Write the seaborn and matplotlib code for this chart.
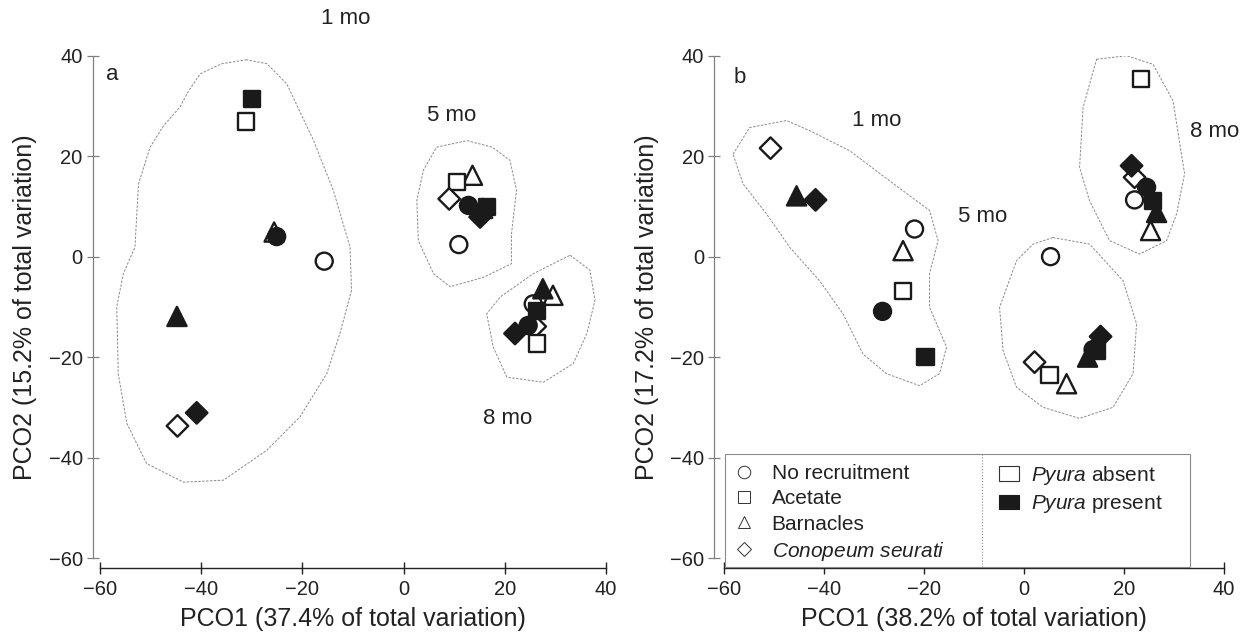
import numpy as np
import pandas as pd
import seaborn as sns
import matplotlib.pyplot as plt
from matplotlib.lines import Line2D
from matplotlib.patches import Patch, Rectangle

# point values
a_time = ['1 mo'] * 8 + ['5 mo'] * 8 + ['8 mo'] * 8
a_treat = ['Acetate', 'Acetate', 'Barnacles', 'No recruitment', 'No recruitment', 'Barnacles', 'Conopeum', 'Conopeum',
           'Barnacles', 'Acetate', 'Conopeum', 'No recruitment', 'Barnacles', 'Acetate', 'Conopeum', 'No recruitment',
           'Barnacles', 'Barnacles', 'No recruitment', 'Acetate', 'Conopeum', 'No recruitment', 'Conopeum', 'Acetate']
a_pyura = ['present', 'absent', 'absent', 'present', 'absent', 'present', 'absent', 'present',
           'absent', 'absent', 'absent', 'present', 'present', 'present', 'present', 'absent',
           'present', 'absent', 'absent', 'present', 'absent', 'present', 'present', 'absent']
a_x = [-29.9, -31.2, -25.6, -25.1, -15.7, -44.8, -44.7, -40.9,
       13.6, 10.5, 9.0, 12.8, 15.6, 16.4, 15.1, 10.9,
       27.5, 29.5, 25.6, 26.3, 26.0, 24.6, 22.0, 26.4]
a_y = [31.4, 26.9, 4.9, 4.0, -0.9, -11.9, -33.7, -31.1,
       16.2, 14.9, 11.5, 10.2, 9.6, 9.9, 7.9, 2.4,
       -6.4, -7.7, -9.4, -10.8, -13.9, -13.7, -15.3, -17.3]

b_time = a_time
b_treat = ['Conopeum', 'Barnacles', 'Conopeum', 'No recruitment', 'Barnacles', 'Acetate', 'No recruitment', 'Acetate',
           'No recruitment', 'Conopeum', 'Acetate', 'Barnacles', 'No recruitment', 'Barnacles', 'Acetate', 'Conopeum',
           'Acetate', 'Conopeum', 'Conopeum', 'No recruitment', 'No recruitment', 'Acetate', 'Barnacles', 'Barnacles']
b_pyura = ['absent', 'present', 'present', 'absent', 'absent', 'absent', 'present', 'present',
           'absent', 'absent', 'absent', 'absent', 'present', 'present', 'present', 'present',
           'absent', 'present', 'absent', 'present', 'absent', 'present', 'present', 'absent']
b_x = [-50.7, -45.5, -41.7, -21.9, -24.2, -24.2, -28.3, -19.7,
       5.3, 2.1, 5.1, 8.5, 13.8, 12.7, 14.5, 15.3,
       23.3, 21.5, 22.1, 24.5, 22.1, 25.8, 26.5, 25.3]
b_y = [21.6, 12.1, 11.3, 5.5, 1.2, -6.8, -10.9, -20.0,
       0.0, -21.0, -23.5, -25.3, -18.5, -20.0, -18.7, -15.9,
       35.4, 18.1, 15.8, 13.8, 11.3, 11.1, 8.8, 5.2]

# dashed group outlines (PCO1, PCO2 vertices)
a_hull_1mo_x = [-31.0, -36.0, -40.2, -42.5, -44.2, -47.5, -50.1, -52.4, -53.1, -55.4, -56.7, -56.4, -54.7,
                -50.8, -43.5, -35.6, -27.0, -20.5, -15.2, -12.6, -10.3, -10.6, -13.9, -17.8, -23.1, -27.0]
a_hull_1mo_y = [39.2, 38.4, 36.4, 33.0, 29.8, 26.0, 21.8, 14.5, 1.9, -3.4, -10.0, -23.3, -33.2,
                -41.2, -44.9, -44.5, -38.5, -31.9, -23.3, -15.3, -6.7, 1.9, 13.2, 23.1, 34.4, 38.4]
a_hull_5mo_x = [6.5, 12.5, 17.5, 21.0, 22.3, 21.3, 21.3, 15.8, 9.2, 5.9, 2.9, 2.6, 3.9]
a_hull_5mo_y = [21.8, 23.1, 21.8, 19.2, 13.2, 4.5, -1.4, -4.1, -6.0, -3.4, 3.2, 11.2, 17.2]
a_hull_8mo_x = [32.9, 36.8, 37.8, 36.2, 33.5, 27.6, 20.4, 17.7, 16.4, 19.1, 25.6]
a_hull_8mo_y = [0.3, -2.7, -8.7, -15.3, -21.3, -25.0, -24.0, -18.0, -11.4, -8.0, -3.4]

b_hull_1mo_x = [-58.2, -54.9, -47.5, -42.9, -34.9, -26.9, -18.9, -17.2, -18.9, -18.9, -15.5, -16.9,
                -20.9, -27.5, -32.2, -36.2, -40.9, -46.9, -51.5, -56.2]
b_hull_1mo_y = [20.4, 25.7, 27.1, 25.1, 21.1, 15.1, 9.2, 3.2, -3.4, -10.1, -18.0, -23.3,
                -25.7, -23.3, -19.4, -11.4, -4.8, 1.9, 8.5, 14.5]
b_hull_5mo_x = [5.8, 13.1, 19.8, 22.5, 21.8, 17.8, 11.1, 3.8, -1.5, -4.2, -4.9, -1.5, 1.8]
b_hull_5mo_y = [3.8, 2.5, -4.8, -13.4, -23.3, -30.0, -32.2, -30.0, -26.0, -18.7, -10.1, -0.8, 2.5]
b_hull_8mo_x = [14.5, 20.5, 25.8, 29.8, 32.1, 30.5, 28.5, 23.1, 17.1, 13.1, 11.1, 11.8]
b_hull_8mo_y = [39.3, 40.0, 38.3, 31.0, 16.5, 8.5, 3.2, 0.5, 3.2, 11.1, 17.8, 29.7]

treatments = ['No recruitment', 'Acetate', 'Barnacles', 'Conopeum']
treat_labels = ['No recruitment', 'Acetate', 'Barnacles', r'$\it{Conopeum\ seurati}$']
marker_map = {'No recruitment': 'o', 'Acetate': 's', 'Barnacles': '^', 'Conopeum': 'D'}
size_map = {'No recruitment': 150, 'Acetate': 135, 'Barnacles': 190, 'Conopeum': 120}

sns.set_style('ticks')
plt.rcParams['font.family'] = ['Liberation Sans', 'DejaVu Sans']
plt.rcParams['mathtext.fontset'] = 'custom'
plt.rcParams['mathtext.rm'] = 'Liberation Sans'
plt.rcParams['mathtext.it'] = 'Liberation Sans:italic'

fig = plt.figure(figsize=(12.52, 6.4), dpi=100)
ax_a = fig.add_axes([0.0799, 0.1281, 0.4042, 0.7848])
ax_b = fig.add_axes([0.5783, 0.1281, 0.3994, 0.7848])

panels = [
    (ax_a, a_treat, a_pyura, a_x, a_y,
     [(a_hull_1mo_x, a_hull_1mo_y), (a_hull_5mo_x, a_hull_5mo_y), (a_hull_8mo_x, a_hull_8mo_y)],
     'PCO1 (37.4% of total variation)', 'PCO2 (15.2% of total variation)', 5),
    (ax_b, b_treat, b_pyura, b_x, b_y,
     [(b_hull_1mo_x, b_hull_1mo_y), (b_hull_5mo_x, b_hull_5mo_y), (b_hull_8mo_x, b_hull_8mo_y)],
     'PCO1 (38.2% of total variation)', 'PCO2 (17.2% of total variation)', 7),
]

for ax, treat, pyura, xs, ys, hulls, xlab, ylab, loff in panels:
    df = pd.DataFrame({'pco1': xs, 'pco2': ys, 'treatment': treat, 'pyura': pyura})
    for hx, hy in hulls:
        ax.plot(hx + hx[:1], hy + hy[:1], color='#8a8a8a', lw=0.7, ls=(0, (2.5, 1.5)), zorder=1)
    for level, face in [('absent', 'white'), ('present', '#1a1a1a')]:
        sub = df[df['pyura'] == level]
        sns.scatterplot(data=sub, x='pco1', y='pco2', style='treatment', markers=marker_map,
                        size='treatment', sizes=size_map, color=face, edgecolor='#1a1a1a',
                        linewidth=1.7, legend=False, ax=ax, zorder=3)
    ax.set_xlim(-60, 40)
    ax.set_ylim(-60, 40)
    ax.set_xticks([-60, -40, -20, 0, 20, 40])
    ax.set_yticks([-60, -40, -20, 0, 20, 40])
    sns.despine(ax=ax)
    ax.spines['left'].set_position(('outward', loff))
    ax.spines['bottom'].set_position(('outward', 7))
    ax.spines['left'].set_color('#808080')
    ax.spines['bottom'].set_color('#222222')
    ax.spines['left'].set_linewidth(0.9)
    ax.spines['bottom'].set_linewidth(1.0)
    ax.tick_params(axis='x', direction='inout', length=9, width=1.0, color='#222222',
                   labelsize=14.5, labelcolor='#222222', pad=4)
    ax.tick_params(axis='y', direction='inout', length=9, width=0.9, color='#808080',
                   labelsize=14.5, labelcolor='#222222', pad=3)
    ax.set_xlabel(xlab, fontsize=18, color='#222222', labelpad=6)
    ax.set_ylabel(ylab, fontsize=18, color='#222222', labelpad=8)

# panel letters and sampling-time labels
ax_a.text(-58.8, 36.2, 'a', fontsize=16, ha='left', va='center', color='#222222')
ax_a.text(-11.4, 47.4, '1 mo', fontsize=16, ha='center', va='center', color='#222222', clip_on=False)
ax_a.text(9.5, 28.1, '5 mo', fontsize=16, ha='center', va='center', color='#222222')
ax_a.text(20.5, -32.2, '8 mo', fontsize=16, ha='center', va='center', color='#222222')

ax_b.text(-58.0, 35.7, 'b', fontsize=16, ha='left', va='center', color='#222222')
ax_b.text(-29.5, 27.1, '1 mo', fontsize=16, ha='center', va='center', color='#222222')
ax_b.text(-8.3, 8.0, '5 mo', fontsize=16, ha='center', va='center', color='#222222')
ax_b.text(33.2, 24.9, '8 mo', fontsize=16, ha='left', va='center', color='#222222', clip_on=False)

# legend box with two columns
box = Rectangle((0.002, -0.017), 0.929, 0.224, transform=ax_b.transAxes, facecolor='white',
                edgecolor='#8a8a8a', lw=0.8, clip_on=False, zorder=4)
ax_b.add_patch(box)
ax_b.plot([0.5154, 0.5154], [-0.017, 0.207], transform=ax_b.transAxes, color='#8a8a8a',
          lw=0.8, ls=':', clip_on=False, zorder=5)

shape_handles = [Line2D([], [], ls='none', marker=marker_map[t], markersize=9 if t != 'Conopeum' else 7,
                        markerfacecolor='white', markeredgecolor='#333333', markeredgewidth=0.7)
                 for t in treatments]
leg1 = ax_b.legend(shape_handles, treat_labels, loc='upper left', bbox_to_anchor=(-0.005, 0.212),
                   frameon=False, fontsize=15, handlelength=1.0, handletextpad=0.8,
                   labelspacing=0.3, borderaxespad=0.3, borderpad=0.3)
for t in leg1.get_texts():
    t.set_color('#222222')
leg1.set_zorder(6)
ax_b.add_artist(leg1)

pyura_handles = [Patch(facecolor='white', edgecolor='#333333', lw=0.8),
                 Patch(facecolor='#1a1a1a', edgecolor='#1a1a1a', lw=0.8)]
pyura_labels = [r'$\it{Pyura}$ absent', r'$\it{Pyura}$ present']
leg2 = ax_b.legend(pyura_handles, pyura_labels, loc='upper left', bbox_to_anchor=(0.525, 0.212),
                   frameon=False, fontsize=15, handlelength=0.95, handleheight=0.7, handletextpad=0.6,
                   labelspacing=0.3, borderaxespad=0.3, borderpad=0.3)
for t in leg2.get_texts():
    t.set_color('#222222')
leg2.set_zorder(6)

plt.savefig('out.png', dpi=100)
